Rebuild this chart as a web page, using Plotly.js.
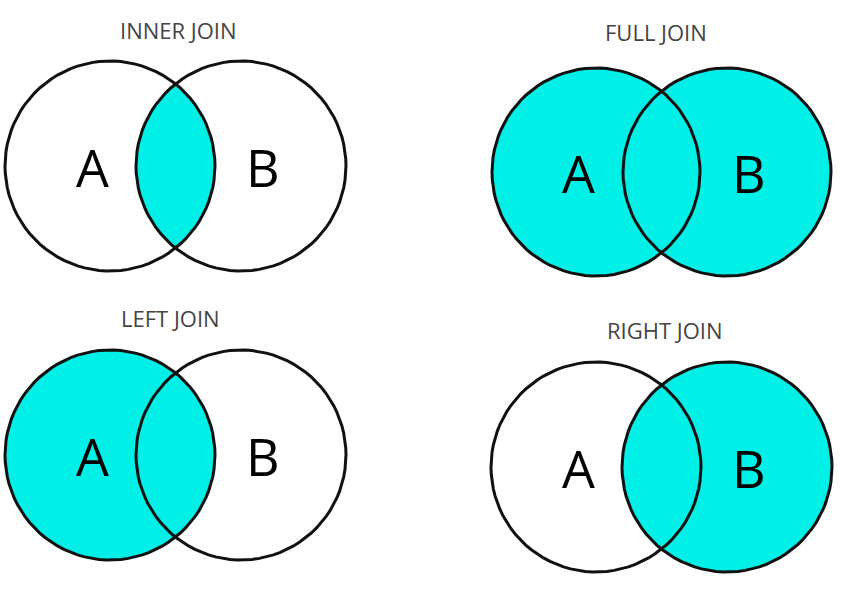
<!DOCTYPE html>
<html>
<head>
<meta charset="utf-8">
<script src="https://cdn.plot.ly/plotly-3.0.1.min.js"></script>
<style>body{margin:0;background:#fff}#plot{width:850px;height:591px}</style>
</head>
<body>
<div id="plot"></div>
<script>
// one entry per diagram
var titles = ['INNER JOIN', 'FULL JOIN', 'LEFT JOIN', 'RIGHT JOIN'];
var titleX = [178, 656, 170, 665];
var titleY = [30, 32, 318, 330];
var centerAX = [110, 596, 110, 596];
var centerBX = [241, 727, 241, 727];
var centerY = [166, 172, 455, 467];
var radius = [105, 104, 105, 105];
var shaded = ['inner', 'full', 'left', 'right'];

var CYAN = '#00f0e8';

function arc(cx, cy, r, a0, a1) {
    var xs = [], ys = [];
    for (let i = 0;i <= 90;i++) {
        let a = a0 + (a1 - a0) * i / 90;
        xs.push(cx + r * Math.cos(a));
        ys.push(cy + r * Math.sin(a));
    }
    return [xs, ys];
}

var traces = [];
var annotations = [];

for (let i = 0;i < titles.length;i++) {
    let ax = centerAX[i], bx = centerBX[i], cy = centerY[i], r = radius[i];
    let half = Math.acos((bx - ax) / 2 / r);
    let fills = [];
    if (shaded[i] == 'inner') {
        let a1 = arc(ax, cy, r, -half, half);
        let b1 = arc(bx, cy, r, Math.PI - half, Math.PI + half);
        fills.push([a1[0].concat(b1[0]), a1[1].concat(b1[1])]);
    }
    if (shaded[i] == 'full' || shaded[i] == 'left') fills.push(arc(ax, cy, r, 0, 2 * Math.PI));
    if (shaded[i] == 'full' || shaded[i] == 'right') fills.push(arc(bx, cy, r, 0, 2 * Math.PI));

    for (let f of fills) {
        traces.push({x: f[0], y: f[1], type: 'scatter', mode: 'lines', fill: 'toself',
            fillcolor: CYAN, line: {width: 0}, hoverinfo: 'skip', showlegend: false});
    }
    for (let c of [ax, bx]) {
        let o = arc(c, cy, r, 0, 2 * Math.PI);
        traces.push({x: o[0], y: o[1], type: 'scatter', mode: 'lines',
            line: {color: '#111', width: 3}, hoverinfo: 'skip', showlegend: false});
    }

    annotations.push({x: titleX[i], y: titleY[i], text: titles[i], showarrow: false,
        font: {family: 'Open Sans', size: 22, color: '#444'}});
    annotations.push({x: ax - 18, y: cy, text: 'A', showarrow: false,
        font: {family: 'Open Sans', size: 52, color: '#000'}});
    annotations.push({x: bx + 22, y: cy, text: 'B', showarrow: false,
        font: {family: 'Open Sans', size: 52, color: '#000'}});
}

var layout = {
    width: 850, height: 591,
    margin: {l: 0, r: 0, t: 0, b: 0},
    paper_bgcolor: '#fff', plot_bgcolor: '#fff',
    xaxis: {range: [0, 850], visible: false, fixedrange: true},
    yaxis: {range: [591, 0], visible: false, fixedrange: true},
    annotations: annotations,
    showlegend: false
};

Plotly.newPlot('plot', traces, layout, {staticPlot: true});
</script>
</body>
</html>
